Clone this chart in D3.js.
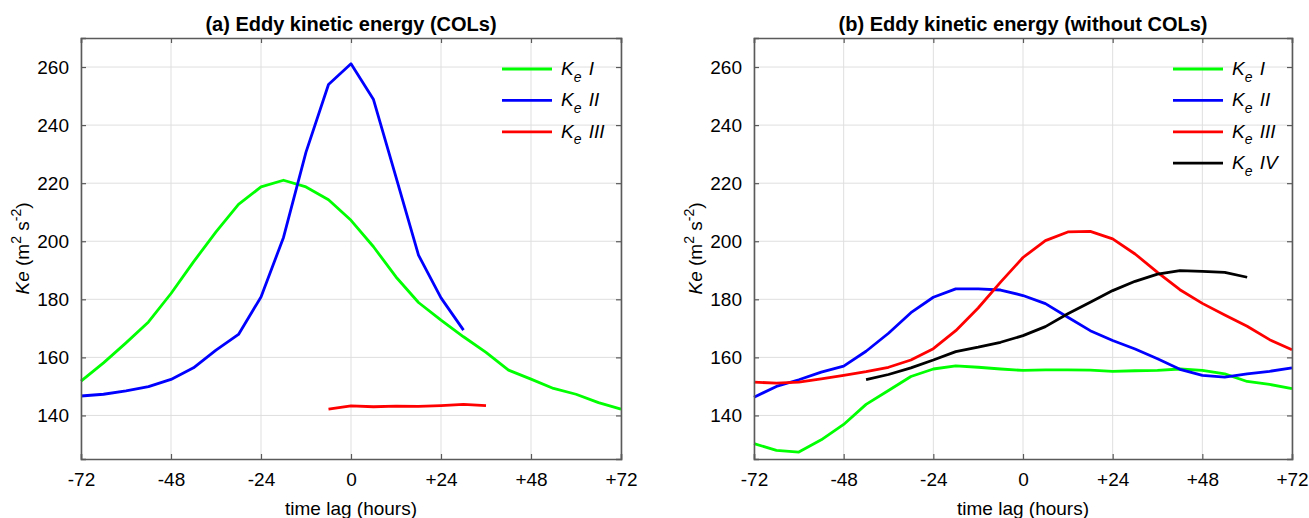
<!DOCTYPE html>
<html>
<head>
<meta charset="utf-8">
<script src="https://cdn.jsdelivr.net/npm/d3@7"></script>
<style>
  body { margin: 0; background: #fff; }
  svg { display: block; font-family: "Liberation Sans", Arial, sans-serif; }
</style>
</head>
<body>
<div id="chart"></div>
<script>
// time lags (hours)
const hoursAll = [-72, -66, -60, -54, -48, -42, -36, -30, -24, -18, -12, -6, 0, 6, 12, 18, 24, 30, 36, 42, 48, 54, 60, 66, 72];
const hoursA2 = [-72, -66, -60, -54, -48, -42, -36, -30, -24, -18, -12, -6, 0, 6, 12, 18, 24, 30];
const hoursA3 = [-6, 0, 6, 12, 18, 24, 30, 36];
const hoursB4 = [-42, -36, -30, -24, -18, -12, -6, 0, 6, 12, 18, 24, 30, 36, 42, 48, 54, 60];

// (a) with COLs
const keA1 = [151.8, 158.1, 165.0, 172.2, 182.0, 192.9, 203.2, 212.7, 218.7, 221.0, 218.7, 214.3, 207.2, 198.1, 187.7, 178.9, 172.8, 167.1, 161.7, 155.6, 152.5, 149.3, 147.3, 144.4, 142.2];
const keA2 = [146.7, 147.3, 148.5, 149.9, 152.4, 156.4, 162.5, 167.9, 180.8, 201.3, 230.7, 254.0, 261.1, 248.8, 222.1, 195.2, 180.5, 169.4];
const keA3 = [142.2, 143.3, 143.0, 143.2, 143.1, 143.4, 143.8, 143.4];

// (b) without COLs
const keB1 = [130.3, 128.0, 127.4, 131.6, 136.9, 143.8, 148.6, 153.4, 156.0, 157.1, 156.6, 156.0, 155.5, 155.7, 155.7, 155.6, 155.2, 155.4, 155.5, 156.0, 155.5, 154.3, 151.7, 150.7, 149.2];
const keB2 = [146.3, 150.0, 152.3, 154.9, 157.0, 162.1, 168.3, 175.4, 180.7, 183.6, 183.6, 183.2, 181.3, 178.5, 173.8, 169.2, 165.8, 162.9, 159.5, 155.9, 153.8, 153.2, 154.3, 155.2, 156.4];
const keB3 = [151.5, 151.1, 151.5, 152.6, 153.8, 155.1, 156.6, 159.1, 163.0, 169.2, 177.0, 185.9, 194.4, 200.2, 203.2, 203.4, 200.8, 195.6, 189.3, 183.3, 178.6, 174.6, 170.7, 166.1, 162.6];
const keB4 = [152.3, 154.1, 156.4, 159.1, 162.0, 163.5, 165.2, 167.5, 170.6, 175.0, 179.0, 183.0, 186.2, 188.7, 189.9, 189.6, 189.3, 187.6];

const xTicks = [-72, -48, -24, 0, 24, 48, 72];
const xTickLabels = ["-72", "-48", "-24", "0", "+24", "+48", "+72"];
const yTicks = [140, 160, 180, 200, 220, 240, 260];
const romans = ["I", "II", "III", "IV"];
const colors = ["#00ff00", "#0000ff", "#ff0000", "#000000"];

const W = 1309, H = 518;
const svg = d3.select("#chart").append("svg")
    .attr("width", W)
    .attr("height", H);

const panels = [
    { title: "(a) Eddy kinetic energy (COLs)", left: 81, right: 621,
      series: [[hoursAll, keA1], [hoursA2, keA2], [hoursA3, keA3]] },
    { title: "(b) Eddy kinetic energy (without COLs)", left: 754, right: 1292,
      series: [[hoursAll, keB1], [hoursAll, keB2], [hoursAll, keB3], [hoursB4, keB4]] }
];

const plotTop = 38, plotBottom = 459;
const fs = 19;

panels.forEach(function (p) {
    const x = d3.scaleLinear().domain([-72, 72]).range([p.left, p.right]);
    const y = d3.scaleLinear().domain([125, 270]).range([plotBottom, plotTop]);
    const g = svg.append("g");

    // grid
    g.selectAll(".gx").data(xTicks).join("line")
        .attr("class", "gx")
        .attr("x1", d => x(d)).attr("x2", d => x(d))
        .attr("y1", plotTop).attr("y2", plotBottom)
        .attr("stroke", "#dfdfdf").attr("stroke-width", 1);
    g.selectAll(".gy").data(yTicks).join("line")
        .attr("class", "gy")
        .attr("x1", p.left).attr("x2", p.right)
        .attr("y1", d => y(d)).attr("y2", d => y(d))
        .attr("stroke", "#dfdfdf").attr("stroke-width", 1);

    // lines
    const line = d3.line().x(d => x(d[0])).y(d => y(d[1]));
    p.series.forEach(function (s, i) {
        const pts = s[0].map((h, j) => [h, s[1][j]]);
        g.append("path")
            .attr("d", line(pts))
            .attr("fill", "none")
            .attr("stroke", colors[i])
            .attr("stroke-width", 2.8)
            .attr("stroke-linejoin", "round");
    });

    // axes (ticks inward, box on)
    const axCol = "#5a5a5a";
    g.append("g").attr("transform", "translate(0," + plotBottom + ")")
        .call(d3.axisBottom(x).tickValues(xTicks).tickSize(-5).tickFormat((d, i) => xTickLabels[i]).tickPadding(14));
    g.append("g").attr("transform", "translate(0," + plotTop + ")")
        .call(d3.axisTop(x).tickValues(xTicks).tickSize(-5).tickFormat(""));
    g.append("g").attr("transform", "translate(" + p.left + ",0)")
        .call(d3.axisLeft(y).tickValues(yTicks).tickSize(-5).tickPadding(12));
    g.append("g").attr("transform", "translate(" + p.right + ",0)")
        .call(d3.axisRight(y).tickValues(yTicks).tickSize(-5).tickFormat(""));
    g.selectAll(".domain").attr("stroke", axCol).attr("stroke-width", 1.6);
    g.selectAll(".tick line").attr("stroke", axCol).attr("stroke-width", 1.2);
    g.selectAll(".tick text")
        .attr("font-family", "Liberation Sans, Arial, sans-serif")
        .attr("font-size", fs).attr("fill", "#000");

    // title
    svg.append("text")
        .attr("x", (p.left + p.right) / 2).attr("y", 31)
        .attr("text-anchor", "middle")
        .attr("font-weight", "bold").attr("font-size", 20)
        .attr("fill", "#000")
        .text(p.title);

    // x label
    svg.append("text")
        .attr("x", (p.left + p.right) / 2).attr("y", 515)
        .attr("text-anchor", "middle")
        .attr("font-size", fs).attr("fill", "#000")
        .text("time lag (hours)");

    // y label
    const yl = svg.append("text")
        .attr("transform", "translate(" + (p.left - 52) + "," + ((plotTop + plotBottom) / 2) + ") rotate(-90)")
        .attr("text-anchor", "middle")
        .attr("font-size", fs).attr("fill", "#000");
    yl.append("tspan").attr("font-style", "italic").text("Ke");
    yl.append("tspan").text(" (m");
    yl.append("tspan").attr("font-size", 14).attr("dy", -8).text("2");
    yl.append("tspan").attr("dy", 8).text(" s");
    yl.append("tspan").attr("font-size", 14).attr("dy", -8).text("-2");
    yl.append("tspan").attr("dy", 8).text(")");

    // legend
    const lx = p.right - 119;
    p.series.forEach(function (s, i) {
        const ly = 69 + i * 31.4;
        svg.append("line")
            .attr("x1", lx).attr("x2", lx + 50)
            .attr("y1", ly).attr("y2", ly)
            .attr("stroke", colors[i]).attr("stroke-width", 2.8);
        const t = svg.append("text")
            .attr("x", lx + 59).attr("y", ly + 6)
            .attr("font-size", fs).attr("font-style", "italic").attr("fill", "#000");
        t.append("tspan").text("K");
        t.append("tspan").attr("font-size", 14).attr("dy", 6.5).text("e");
        t.append("tspan").attr("dy", -6.5).attr("dx", 2).text(" " + romans[i]);
    });
});
</script>
</body>
</html>
